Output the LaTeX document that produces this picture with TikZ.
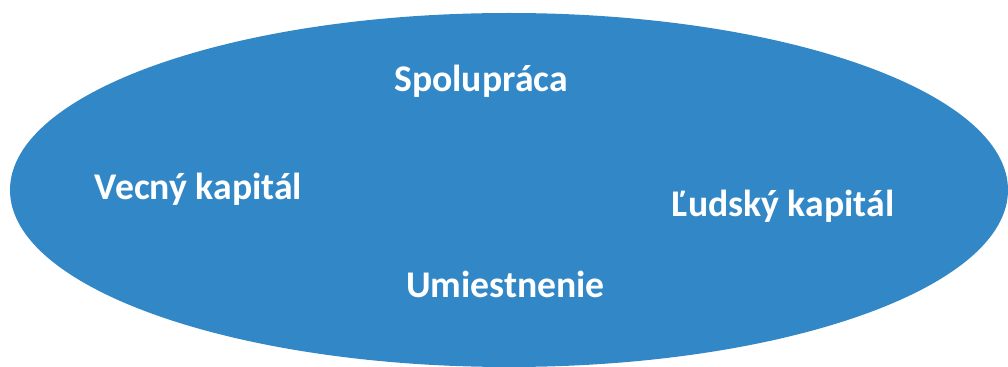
\documentclass[tikz,border=0pt]{standalone}
\usepackage{fontspec}
\setmainfont{Carlito}
\begin{document}
\begin{tikzpicture}[x=0.025cm,y=-0.025cm,
        label text/.style={text=white,font=\bfseries\fontsize{26.8}{32}\selectfont,anchor=base,inner sep=0pt}]
        \colorlet{b}{rgb,255:red,50;green,136;blue,199}
        \useasboundingbox (0,0) rectangle (1008,367);
        \clip (0,0) rectangle (1008,367);
        \fill[b] (509,190) ellipse [x radius=499, y radius=177];
        \node[label text] (spolupraca) at (481,92) {Spolupráca};
        \node[label text] (vecny) at (198.5,200) {Vecný kapitál};
        \node[label text] (ludsky) at (783,217) {Ľudský kapitál};
        \node[label text] (umiestnenie) at (505.5,298) {Umiestnenie};
    \end{tikzpicture}
\end{document}
